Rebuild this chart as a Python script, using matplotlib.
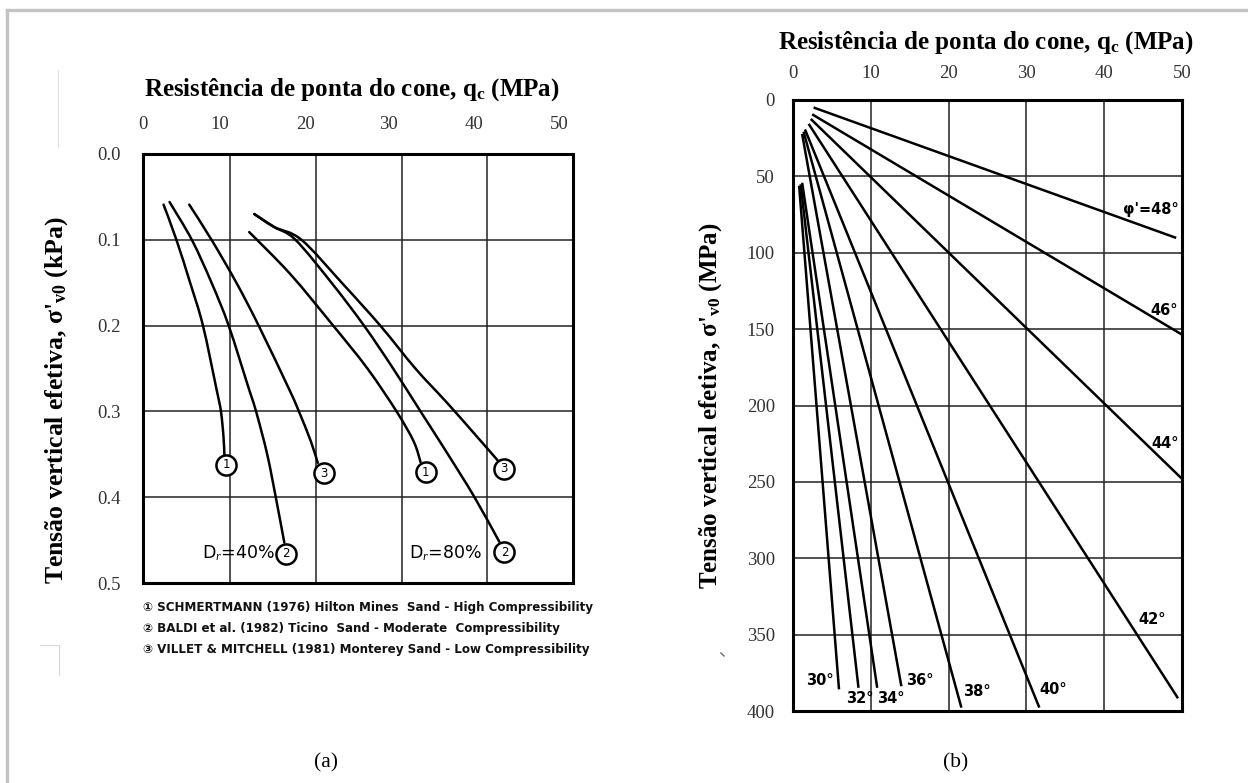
import matplotlib
matplotlib.use("Agg")
import matplotlib.pyplot as plt
from matplotlib.lines import Line2D
from matplotlib.path import Path
from matplotlib.patches import PathPatch
import numpy as np

plt.rcParams['mathtext.fontset'] = 'custom'
plt.rcParams['mathtext.rm'] = 'Liberation Serif'
plt.rcParams['mathtext.bf'] = 'Liberation Serif:bold'
plt.rcParams['mathtext.it'] = 'Liberation Serif:italic'

SERIF = 'Liberation Serif'
SANS = ['DejaVu Sans']

# ---------------- (a) qc vs sigma'v0 for two relative densities ----------------
# each curve: (qc MPa, sigma'v0)
a40_1_qc = [2.2, 3.7, 5.3, 6.8, 8.4, 8.9, 9.2, 9.3]
a40_1_sv = [0.059, 0.10, 0.15, 0.20, 0.275, 0.30, 0.33, 0.351]
a40_2_qc = [2.9, 5.5, 7.8, 9.8, 12.2, 13.0, 14.3, 15.3, 16.3]
a40_2_sv = [0.056, 0.10, 0.15, 0.20, 0.275, 0.30, 0.35, 0.40, 0.453]
a40_3_qc = [5.2, 7.8, 10.7, 13.3, 16.9, 18.0, 19.4, 20.2]
a40_3_sv = [0.059, 0.10, 0.15, 0.20, 0.275, 0.30, 0.335, 0.36]
a80_1_qc = [12.2, 17.0, 22.0, 26.0, 29.4, 31.4, 32.2]
a80_1_sv = [0.091, 0.14, 0.20, 0.25, 0.30, 0.335, 0.359]
a80_2_qc = [12.8, 15.1, 17.6, 21.8, 25.6, 29.0, 32.2, 35.4, 38.5, 41.4]
a80_2_sv = [0.070, 0.085, 0.10, 0.15, 0.20, 0.25, 0.30, 0.35, 0.40, 0.452]
a80_3_qc = [12.8, 15.1, 18.3, 23.0, 27.5, 31.6, 35.3, 38.4, 41.2]
a80_3_sv = [0.070, 0.085, 0.10, 0.15, 0.20, 0.25, 0.29, 0.325, 0.357]

curves_a = [(a40_1_qc, a40_1_sv), (a40_2_qc, a40_2_sv), (a40_3_qc, a40_3_sv),
            (a80_1_qc, a80_1_sv), (a80_2_qc, a80_2_sv), (a80_3_qc, a80_3_sv)]

# circled reference numbers at the curve ends
mark_num = ['1', '2', '3', '1', '2', '3']
mark_qc = [9.5, 16.5, 20.9, 32.8, 42.0, 41.9]
mark_sv = [0.362, 0.466, 0.372, 0.371, 0.464, 0.367]

a_ticks = [0, 10, 20, 30, 40, 50]
a_tick_pos = [-0.2, 8.8, 18.8, 28.5, 38.5, 48.4]
a_yticks = [0.0, 0.1, 0.2, 0.3, 0.4, 0.5]

legend_a = ["\u2460 SCHMERTMANN (1976) Hilton Mines  Sand - High Compressibility",
            "\u2461 BALDI et al. (1982) Ticino  Sand - Moderate  Compressibility",
            "\u2462 VILLET & MITCHELL (1981) Monterey Sand - Low Compressibility"]

# ---------------- (b) friction angle lines ----------------
phi = [30, 32, 34, 36, 38, 40, 42, 44, 46, 48]
b_qc_top = [0.8, 1.0, 1.2, 1.2, 1.4, 1.6, 2.1, 2.4, 2.6, 2.8]
b_sv_top = [57, 56, 55, 23, 21.5, 20, 16.3, 13, 9.8, 5.2]
b_qc_bot = [5.9, 8.4, 10.8, 13.9, 21.6, 31.6, 49.4, 50, 50, 49.1]
b_sv_bot = [385, 384, 384, 383, 397, 397, 391, 248, 153.6, 90]
lab_qc = [3.4, 8.6, 12.6, 16.3, 23.6, 33.5, 46.1, 47.8, 47.7, 46.0]
lab_sv = [380, 391.5, 391.5, 380, 387, 386, 340, 225, 138, 72]

b_ticks = [0, 10, 20, 30, 40, 50]
b_yticks = [0, 50, 100, 150, 200, 250, 300, 350, 400]

W, H = 1248, 783
fig = plt.figure(figsize=(W / 100, H / 100), dpi=100)


def fx(px):
    return px / W


def fy(py):
    return 1 - py / H


def frame(ax):
    for s in ax.spines.values():
        s.set_linewidth(2.2)
        s.set_color('black')


def smooth_path(xs, ys):
    # Catmull-Rom through the read points, drawn as cubic Bezier segments
    pts = np.column_stack([xs, ys])
    verts = [pts[0]]
    codes = [Path.MOVETO]
    n = len(pts)
    for i in range(n - 1):
        p0 = pts[i - 1] if i > 0 else pts[i]
        p1, p2 = pts[i], pts[i + 1]
        p3 = pts[i + 2] if i + 2 < n else pts[i + 1]
        verts += [p1 + (p2 - p0) / 6, p2 - (p3 - p1) / 6, p2]
        codes += [Path.CURVE4] * 3
    return Path(verts, codes)


# ---- panel (a)
ax1 = fig.add_axes([fx(143), fy(583), fx(573) - fx(143), fy(154) - fy(583)])
ax1.set_xlim(0, 50)
ax1.set_ylim(0.5, 0.0)
for g in [10, 20, 30, 40]:
    ax1.axvline(g, color='#222222', lw=1.1, zorder=1)
for g in [0.1, 0.2, 0.3, 0.4]:
    ax1.axhline(g, color='#222222', lw=1.1, zorder=1)
frame(ax1)
ax1.xaxis.tick_top()
ax1.set_xticks(a_tick_pos)
ax1.set_xticklabels([str(t) for t in a_ticks])
ax1.set_yticks(a_yticks)
ax1.set_yticklabels(['%.1f' % t for t in a_yticks])
ax1.tick_params(axis='x', length=0, pad=15, labelsize=13.5, labelcolor='#333333')
ax1.tick_params(axis='y', length=0, pad=16, labelsize=13.5, labelcolor='#333333')
for lab in ax1.get_xticklabels() + ax1.get_yticklabels():
    lab.set_fontfamily(SERIF)

for qc, sv in curves_a:
    ax1.add_patch(PathPatch(smooth_path(qc, sv), fill=False, ec='black', lw=1.8,
                            capstyle='round', zorder=3))
for n, qc, sv in zip(mark_num, mark_qc, mark_sv):
    ax1.plot(qc, sv, 'o', ms=14.5, mfc='white', mec='black', mew=1.8, zorder=4)
    ax1.text(qc, sv, n, ha='center', va='center', fontsize=8.5,
             family=SANS, zorder=5)
ax1.text(10.9, 0.465, 'D$_r$=40%', ha='center', va='center', fontsize=12.5, family=SANS)
ax1.text(35.1, 0.465, 'D$_r$=80%', ha='center', va='center', fontsize=12.5, family=SANS)

for i, line in enumerate(legend_a):
    fig.text(fx(143), fy(608 + 20.5 * i), line, ha='left', va='center',
             fontsize=8.6, fontweight='bold', family=SANS, color='#111111')

fig.text(fx(352), fy(90), 'Resistência de ponta do cone, q$_\\mathbf{c}$ (MPa)',
         ha='center', va='center', fontsize=18, fontweight='bold', family=SERIF)
fig.text(fx(57), fy(400), "Tensão vertical efetiva, σ'$_\\mathbf{v0}$ (kPa)",
         ha='center', va='center', rotation=90, fontsize=18.5, fontweight='bold',
         family=SERIF)

# ---- panel (b)
ax2 = fig.add_axes([fx(793), fy(711), fx(1182) - fx(793), fy(100) - fy(711)])
ax2.set_xlim(0, 50)
ax2.set_ylim(400, 0)
for g in [10, 20, 30, 40]:
    ax2.axvline(g, color='#222222', lw=1.1, zorder=1)
for g in b_yticks[1:-1]:
    ax2.axhline(g, color='#222222', lw=1.1, zorder=1)
frame(ax2)
ax2.xaxis.tick_top()
ax2.set_xticks(b_ticks)
ax2.set_yticks(b_yticks)
ax2.tick_params(axis='x', length=0, pad=13, labelsize=13.5, labelcolor='#333333')
ax2.tick_params(axis='y', length=0, pad=13, labelsize=13.5, labelcolor='#333333')
for lab in ax2.get_xticklabels() + ax2.get_yticklabels():
    lab.set_fontfamily(SERIF)

for p, x0, y0, x1, y1 in zip(phi, b_qc_top, b_sv_top, b_qc_bot, b_sv_bot):
    ax2.plot([x0, x1], [y0, y1], color='black', lw=1.8, zorder=3, clip_on=False)
for p, x, y in zip(phi, lab_qc, lab_sv):
    txt = "φ'=%d°" % p if p == 48 else '%d°' % p
    ax2.text(x, y, txt, ha='center', va='center', fontsize=10.5, fontweight='bold',
             family=SANS, zorder=5)

fig.text(fx(986), fy(43), 'Resistência de ponta do cone, q$_\\mathbf{c}$ (MPa)',
         ha='center', va='center', fontsize=18, fontweight='bold', family=SERIF)
fig.text(fx(711), fy(406), "Tensão vertical efetiva, σ'$_\\mathbf{v0}$ (MPa)",
         ha='center', va='center', rotation=90, fontsize=18, fontweight='bold',
         family=SERIF)

# captions
fig.text(fx(326), fy(763), '(a)', ha='center', va='center', fontsize=15.5, family=SERIF)
fig.text(fx(956), fy(763), '(b)', ha='center', va='center', fontsize=15.5, family=SERIF)

# page border and stray marks of the scanned sheet
fig.add_artist(Line2D([fx(7), 1], [fy(10), fy(10)], color='#c3c3c3', lw=2.4))
fig.add_artist(Line2D([fx(7), fx(7)], [0, fy(10)], color='#c3c3c3', lw=2.4))
fig.add_artist(Line2D([fx(58), fx(58)], [fy(70), fy(147)], color='#e2e2e2', lw=0.8))
fig.add_artist(Line2D([fx(40), fx(59), fx(59)], [fy(645), fy(645), fy(675)],
                      color='#d8d8d8', lw=0.8))
fig.add_artist(Line2D([fx(721), fx(724)], [fy(653), fy(656)], color='#666666', lw=1.0))

fig.savefig('out.png', dpi=100)
